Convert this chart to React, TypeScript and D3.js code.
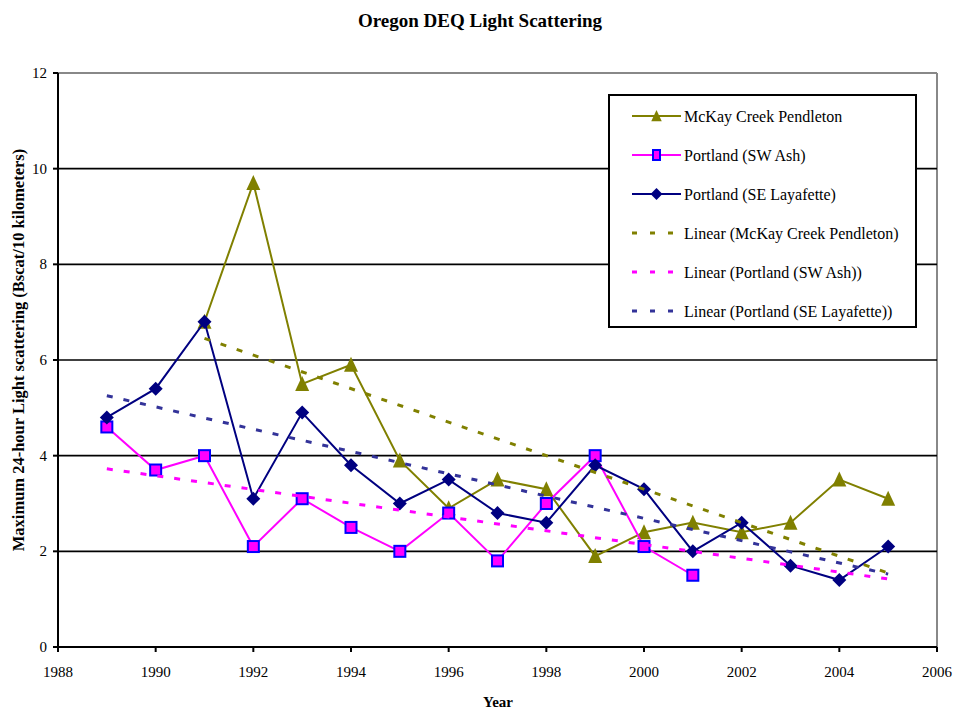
import React from "react";
import * as d3 from "d3";

// Annual maximum 24-hour light scattering (Bscat/10 km) by monitoring site
const mckayYears = [1991, 1992, 1993, 1994, 1995, 1996, 1997, 1998, 1999, 2000, 2001, 2002, 2003, 2004, 2005];
const mckayValues = [6.8, 9.7, 5.5, 5.9, 3.9, 2.9, 3.5, 3.3, 1.9, 2.4, 2.6, 2.4, 2.6, 3.5, 3.1];

const swAshYears = [1989, 1990, 1991, 1992, 1993, 1994, 1995, 1996, 1997, 1998, 1999, 2000, 2001];
const swAshValues = [4.6, 3.7, 4.0, 2.1, 3.1, 2.5, 2.0, 2.8, 1.8, 3.0, 4.0, 2.1, 1.5];

const seLayYears = [1989, 1990, 1991, 1992, 1993, 1994, 1995, 1996, 1997, 1998, 1999, 2000, 2001, 2002, 2003, 2004, 2005];
const seLayValues = [4.8, 5.4, 6.8, 3.1, 4.9, 3.8, 3.0, 3.5, 2.8, 2.6, 3.8, 3.3, 2.0, 2.6, 1.7, 1.4, 2.1];

const xTicks = [1988, 1990, 1992, 1994, 1996, 1998, 2000, 2002, 2004, 2006];
const yTicks = [0, 2, 4, 6, 8, 10, 12];

const legendLabels = [
  "McKay Creek Pendleton",
  "Portland (SW Ash)",
  "Portland (SE Layafette)",
  "Linear (McKay Creek Pendleton)",
  "Linear (Portland (SW Ash))",
  "Linear (Portland (SE Layafette))",
];

const W = 957;
const H = 713;
const left = 58;
const right = 937;
const top = 73;
const bottom = 647;
const FONT = "'Liberation Serif', 'Times New Roman', serif";

const OLIVE = "#808000";
const MAGENTA = "#FF00FF";
const NAVY = "#000080";
const TREND_BLUE = "#333399";

const x = d3.scaleLinear().domain([1988, 2006]).range([left, right]);
const y = d3.scaleLinear().domain([0, 12]).range([bottom, top]);

// Least-squares fit of ys on xs
function linearFit(xs: number[], ys: number[]) {
  const mx = d3.mean(xs)!;
  const my = d3.mean(ys)!;
  let sxy = 0;
  let sxx = 0;
  xs.forEach((v, i) => {
    sxy += (v - mx) * (ys[i] - my);
    sxx += (v - mx) * (v - mx);
  });
  const slope = sxy / sxx;
  return (v: number) => my + slope * (v - mx);
}

type Pt = [number, number];
const zip = (xs: number[], ys: number[]): Pt[] => xs.map((v, i) => [v, ys[i]]);
const line = d3.line<Pt>().x((d) => x(d[0])).y((d) => y(d[1]));

const series = [
  { pts: zip(mckayYears, mckayValues), color: OLIVE, marker: "triangle" },
  { pts: zip(swAshYears, swAshValues), color: MAGENTA, marker: "square" },
  { pts: zip(seLayYears, seLayValues), color: NAVY, marker: "diamond" },
];

const trends = [
  { fn: linearFit(mckayYears, mckayValues), from: 1991, to: 2005, color: OLIVE },
  { fn: linearFit(swAshYears, swAshValues), from: 1989, to: 2005, color: MAGENTA },
  { fn: linearFit(seLayYears, seLayValues), from: 1989, to: 2005, color: TREND_BLUE },
];

function Marker({ kind, cx, cy, s = 1 }: { kind: string; cx: number; cy: number; s?: number }) {
  if (kind === "triangle") {
    const w = 14 * s;
    return (
      <path
        d={`M${cx},${cy - 8 * s} L${cx + w / 2},${cy + 7 * s} L${cx - w / 2},${cy + 7 * s} Z`}
        fill={OLIVE}
      />
    );
  }
  if (kind === "square") {
    const a = 11 * s;
    return (
      <rect x={cx - a / 2} y={cy - a / 2} width={a} height={a} fill={MAGENTA} stroke="#0000FF" strokeWidth={2} />
    );
  }
  const r = 7 * s;
  return <path d={`M${cx},${cy - r} L${cx + r},${cy} L${cx},${cy + r} L${cx - r},${cy} Z`} fill={NAVY} />;
}

export default function App() {
  const legendX = 609;
  const legendY = 95;
  const legendW = 307;
  const legendH = 232;
  const rowGap = 39;

  return (
    <svg
      width={W}
      height={H}
      style={{ position: "absolute", left: 0, top: 0, background: "#fff" }}
      fontFamily={FONT}
    >
      <rect x={0} y={0} width={W} height={H} fill="#fff" />
      <text x={480} y={27} textAnchor="middle" fontSize={19} fontWeight="bold">
        Oregon DEQ Light Scattering
      </text>

      {/* Plot frame */}
      <line x1={left} x2={right} y1={top} y2={top} stroke="#888" strokeWidth={2} />
      <line x1={right} x2={right} y1={top} y2={bottom} stroke="#888" strokeWidth={2} />

      {/* Horizontal gridlines */}
      {yTicks
        .filter((t) => t > 0 && t < 12)
        .map((t) => (
          <line key={t} x1={left} x2={right} y1={y(t)} y2={y(t)} stroke="#000" strokeWidth={1.6} />
        ))}

      {/* Axes */}
      <line x1={left} x2={left} y1={top} y2={bottom} stroke="#000" strokeWidth={2} />
      <line x1={left} x2={right} y1={bottom} y2={bottom} stroke="#000" strokeWidth={2} />
      {yTicks.map((t) => (
        <g key={t}>
          <line x1={left - 5} x2={left} y1={y(t)} y2={y(t)} stroke="#000" strokeWidth={2} />
          <text x={left - 11} y={y(t) + 5} textAnchor="end" fontSize={15}>
            {t}
          </text>
        </g>
      ))}
      {xTicks.map((t) => (
        <g key={t}>
          <line x1={x(t)} x2={x(t)} y1={bottom} y2={bottom + 5} stroke="#000" strokeWidth={2} />
          <text x={x(t)} y={bottom + 30} textAnchor="middle" fontSize={15}>
            {t}
          </text>
        </g>
      ))}

      <text x={498} y={707} textAnchor="middle" fontSize={15} fontWeight="bold">
        Year
      </text>
      <text
        transform={`translate(24, 350) rotate(-90)`}
        textAnchor="middle"
        fontSize={16.5}
        fontWeight="bold"
      >
        Maximum 24-hour Light scattering (Bscat/10 kilometers)
      </text>

      {/* Data series */}
      {series.map((s, i) => (
        <g key={i}>
          <path d={line(s.pts) || ""} fill="none" stroke={s.color} strokeWidth={2} />
          {s.pts.map((p, j) => (
            <Marker key={j} kind={s.marker} cx={x(p[0])} cy={y(p[1])} />
          ))}
        </g>
      ))}

      {/* Linear trendlines */}
      {trends.map((t, i) => (
        <line
          key={i}
          x1={x(t.from)}
          y1={y(t.fn(t.from))}
          x2={x(t.to)}
          y2={y(t.fn(t.to))}
          stroke={t.color}
          strokeWidth={3}
          strokeDasharray="6,11"
        />
      ))}

      {/* Legend */}
      <rect x={legendX} y={legendY} width={legendW} height={legendH} fill="#fff" stroke="#000" strokeWidth={2} />
      {legendLabels.map((label, i) => {
        const cy = legendY + 21 + i * rowGap;
        const x1 = legendX + 23;
        const x2 = legendX + 72;
        let sample;
        if (i < 3) {
          const s = series[i];
          sample = (
            <g>
              <line x1={x1} x2={x2} y1={cy} y2={cy} stroke={s.color} strokeWidth={2} />
              {i === 0 && <Marker kind="triangle" cx={(x1 + x2) / 2} cy={cy} s={0.75} />}
              {i === 1 && (
                <rect x={(x1 + x2) / 2 - 3.5} y={cy - 5} width={7} height={10} fill={MAGENTA} stroke="#0000FF" strokeWidth={2} />
              )}
              {i === 2 && <Marker kind="diamond" cx={(x1 + x2) / 2} cy={cy} s={0.85} />}
            </g>
          );
        } else {
          const t = trends[i - 3];
          sample = (
            <line x1={x1} x2={x2} y1={cy} y2={cy} stroke={t.color} strokeWidth={3} strokeDasharray="5,13" />
          );
        }
        return (
          <g key={i}>
            {sample}
            <text x={legendX + 75} y={cy + 5.5} fontSize={16}>
              {label}
            </text>
          </g>
        );
      })}
    </svg>
  );
}
